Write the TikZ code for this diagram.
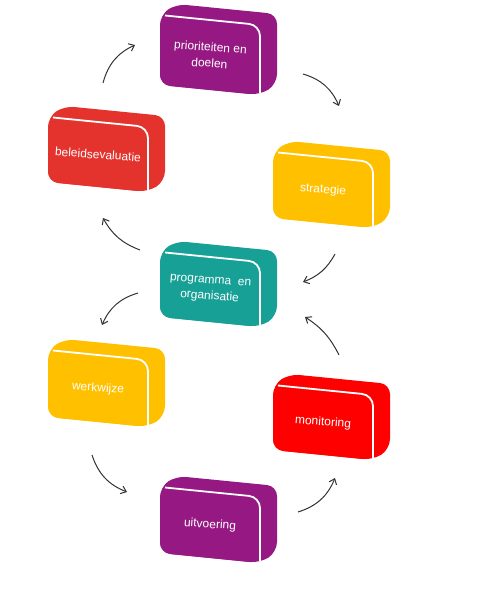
\documentclass[tikz,border=0pt]{standalone}
\usepackage{fontspec}
\setmainfont{Liberation Sans}
\usetikzlibrary{arrows.meta}
\definecolor{cpurple}{RGB}{150,24,130}
\definecolor{cyellow}{RGB}{255,192,0}
\definecolor{cteal}{RGB}{22,160,150}
\definecolor{cred}{RGB}{228,50,45}
\definecolor{cbright}{RGB}{255,0,0}
\definecolor{carrow}{RGB}{50,50,50}
\tikzset{
 lbl/.style={text=white, font=\fontsize{12}{16}\selectfont, align=center, inner sep=0pt},
 backface/.style={rounded corners=10pt},
 frontface/.style={rounded corners=11pt},
 gapline/.style={rounded corners=11pt, draw=white, line width=1.8pt},
 cyc/.style={draw=carrow, line width=1pt, -{Straight Barb[length=5pt,width=8pt]}},
}
\newcommand\blk[6]{%
 \fill[backface,#5] (#2,#3) -- ({#2+16},{#3-11}) -- ({#2+117},{#3-1}) -- ({#2+117},{#3-1+#4}) -- ({#2+100},{#3+10+#4}) -- (#2,{#3+#4}) -- cycle;
 \fill[frontface, #5] (#2,#3) -- ({#2+100},{#3+10}) -- ({#2+100},{#3+10+#4}) -- (#2,{#3+#4}) -- cycle;
 \draw[gapline] ({#2+5},{#3+0.5}) -- ({#2+100},{#3+10}) -- ({#2+100},{#3+8+#4});
 \node[lbl, rotate=-4] (#1) at ({#2+50},{#3+5+#4/2}) {#6};
}
\begin{document}
\begin{tikzpicture}[x=1pt,y=-1pt]
\useasboundingbox (0,0) rectangle (501,596);
\blk{prio}{160}{15}{70}{cpurple}{prioriteiten en\\doelen}
\blk{strat}{273}{152}{66}{cyellow}{strategie}
\blk{beleid}{48}{117}{65}{cred}{beleidsevaluatie}
\blk{prog}{160}{252}{65}{cteal}{programma~ en\\organisatie}
\blk{werk}{48}{350}{67}{cyellow}{werkwijze}
\blk{moni}{273}{385}{65}{cbright}{monitoring}
\blk{uitv}{160}{487}{66}{cpurple}{uitvoering}

\coordinate (a1s) at (103,83);  \coordinate (a1e) at (135,45);
\coordinate (a2s) at (303,74);  \coordinate (a2e) at (339,106);
\coordinate (a3s) at (140,250); \coordinate (a3e) at (103,218);
\coordinate (a4s) at (335,254); \coordinate (a4e) at (303,282);
\coordinate (a5s) at (138,293); \coordinate (a5e) at (102,325);
\coordinate (a6s) at (339,355); \coordinate (a6e) at (305,317);
\coordinate (a7s) at (92,455);  \coordinate (a7e) at (127,492);
\coordinate (a8s) at (298,512); \coordinate (a8e) at (335,478);

\draw[cyc] (a1s) to[bend left=25] (a1e);
\draw[cyc] (a2s) to[bend left=25] (a2e);
\draw[cyc] (a3s) to[bend left=20] (a3e);
\draw[cyc] (a4s) to[bend left=20] (a4e);
\draw[cyc] (a5s) to[bend right=25] (a5e);
\draw[cyc] (a6s) to[bend right=15] (a6e);
\draw[cyc] (a7s) to[bend right=25] (a7e);
\draw[cyc] (a8s) to[bend right=25] (a8e);
\end{tikzpicture}
\end{document}
